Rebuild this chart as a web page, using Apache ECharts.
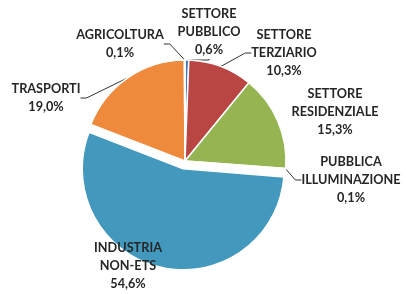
<!DOCTYPE html>
<html><head><meta charset="utf-8">
<script src="https://cdn.jsdelivr.net/npm/echarts@6/dist/echarts.min.js"></script>
<style>html,body{margin:0;padding:0;background:#fff}#c{width:406px;height:294px}</style>
</head><body><div id="c"></div>
<script>
// Data
const categories = ['SETTORE\nPUBBLICO', 'SETTORE\nTERZIARIO', 'SETTORE\nRESIDENZIALE', 'PUBBLICA\nILLUMINAZIONE', 'INDUSTRIA\nNON-ETS', 'TRASPORTI', 'AGRICOLTURA'];
const values = [0.6, 10.3, 15.3, 0.1, 54.6, 19.0, 0.1];
const colors = ['#3E78B8', '#BA4643', '#96B552', '#7D5FA0', '#4298BD', '#EF8A3D', '#2C4D75'];
const explodedIndex = 4;

// Styling / label placement (not data)
const labelPos = [[209, 32], [284, 53], [335, 112], [351, 180], [128, 266], [46, 98], [120, 44]];
const showLine = [true, true, false, true, false, true, true];

const baseCenter = [185, 161];
const explodeDist = 8;

// compute offset direction of the exploded slice from the values
const total = values.reduce((a, b) => a + b, 0);
let before = 0;
for (let i = 0; i < explodedIndex; i++) before += values[i];
const midFrac = (before + values[explodedIndex] / 2) / total;
const ang = midFrac * 2 * Math.PI; // clockwise from top
const explCenter = [baseCenter[0] + Math.sin(ang) * explodeDist, baseCenter[1] - Math.cos(ang) * explodeDist];

function makeSeries(center, visibleFn) {
  return {
    type: 'pie',
    center: center,
    radius: 101,
    startAngle: 90,
    clockwise: true,
    avoidLabelOverlap: false,
    silent: true,
    emphasis: {disabled: true},
    label: {
      show: true,
      formatter: p => p.name + '\n' + p.value.toFixed(1).replace('.', ',') + '%',
      fontFamily: 'Lato',
      fontWeight: 'bold',
      fontSize: 12.7,
      lineHeight: 18,
      color: '#262626',
      align: 'center'
    },
    labelLine: {show: true, length: 6, length2: 6, lineStyle: {color: '#333', width: 1}},
    labelLayout: function (params) {
      const i = params.dataIndex;
      return {x: labelPos[i][0], y: labelPos[i][1], align: 'center', verticalAlign: 'middle'};
    },
    data: categories.map((n, i) => {
      const vis = visibleFn(i);
      return {
        name: n,
        value: values[i],
        itemStyle: vis ? {color: colors[i], borderColor: '#fff', borderWidth: 1.5}
                       : {color: 'rgba(0,0,0,0)', borderColor: 'rgba(0,0,0,0)', borderWidth: 0},
        label: {show: vis},
        labelLine: {show: vis && showLine[i]}
      };
    })
  };
}

const chart = echarts.init(document.getElementById('c'), null, {renderer: 'canvas'});
chart.setOption({
  animation: false,
  series: [
    makeSeries(baseCenter, i => i !== explodedIndex),
    makeSeries(explCenter, i => i === explodedIndex)
  ]
});
</script>
</body></html>
